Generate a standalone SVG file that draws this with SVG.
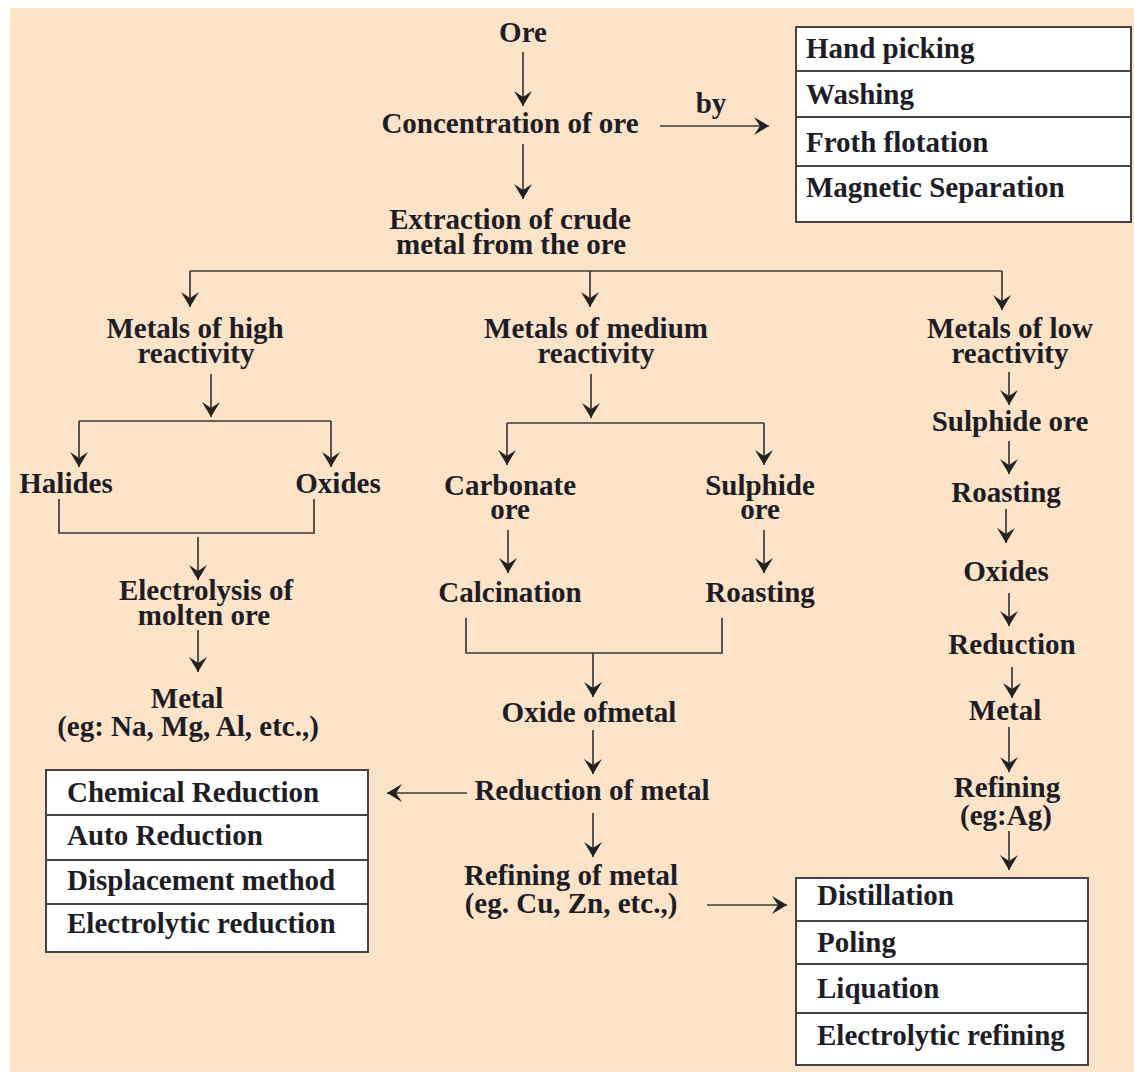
<svg xmlns="http://www.w3.org/2000/svg" width="1134" height="1073" viewBox="0 0 1134 1073">
<defs>
<marker id="ah" markerUnits="userSpaceOnUse" viewBox="0 0 15 20" markerWidth="15" markerHeight="20" refX="15" refY="10" orient="auto">
<path d="M0,1 L15,10 L0,19 L6,10 Z" fill="#222"/>
</marker>
</defs>
<style>
text{font-family:"Liberation Serif","Times New Roman",serif;font-weight:bold;font-size:29px;fill:#1d1d26}
.c{text-anchor:middle}
.ln{fill:none;stroke:#3a3a3a;stroke-width:1.7}
.ar{fill:none;stroke:#3a3a3a;stroke-width:1.7;marker-end:url(#ah)}
.box{fill:#fff;stroke:#444;stroke-width:2}
.sep{stroke:#444;stroke-width:2}
</style>
<rect x="10" y="8" width="1124" height="1064" fill="#fde3c8"/>

<g id="connectors">
<path class="ar" d="M523,52 V106"/>
<path class="ar" d="M523,144 V199"/>
<path class="ar" d="M660,126 H769"/>
<path class="ln" d="M190,271 H1002"/>
<path class="ar" d="M190,271 V307"/>
<path class="ar" d="M590,271 V307"/>
<path class="ar" d="M1002,271 V310"/>
<path class="ar" d="M211,374 V417"/>
<path class="ln" d="M79,421 H331"/>
<path class="ar" d="M79,421 V467"/>
<path class="ar" d="M331,421 V467"/>
<path class="ln" d="M59,499 V533 H314 V499"/>
<path class="ar" d="M198,537 V580"/>
<path class="ar" d="M198,630 V672"/>
<path class="ar" d="M591,374 V418"/>
<path class="ln" d="M507,423 H764"/>
<path class="ar" d="M507,423 V465"/>
<path class="ar" d="M764,423 V465"/>
<path class="ar" d="M508,530 V573"/>
<path class="ar" d="M764,530 V573"/>
<path class="ln" d="M466,618 V653 H722 V618"/>
<path class="ar" d="M593,653 V697"/>
<path class="ar" d="M593,730 V774"/>
<path class="ar" d="M467,793 H387"/>
<path class="ar" d="M593,813 V857"/>
<path class="ar" d="M707,905 H787"/>
<path class="ar" d="M1009,372 V405"/>
<path class="ar" d="M1009,441 V474"/>
<path class="ar" d="M1006,509 V543"/>
<path class="ar" d="M1009,593 V626"/>
<path class="ar" d="M1012,667 V698"/>
<path class="ar" d="M1009,727 V772"/>
<path class="ar" d="M1009,831 V870"/>
</g>

<g id="ore"><text class="c" x="523" y="42">Ore</text></g>
<g id="concentration"><text class="c" x="510" y="133">Concentration of ore</text></g>
<g id="by"><text class="c" x="711" y="113">by</text></g>
<g id="concentration-methods">
<rect class="box" x="796" y="27" width="335" height="195"/>
<line class="sep" x1="796" y1="71" x2="1131" y2="71"/>
<line class="sep" x1="796" y1="117" x2="1131" y2="117"/>
<line class="sep" x1="796" y1="166" x2="1131" y2="166"/>
<text x="806" y="58">Hand picking</text>
<text x="806" y="104">Washing</text>
<text x="806" y="152">Froth flotation</text>
<text x="806" y="197">Magnetic Separation</text>
</g>
<g id="extraction"><text class="c" x="510" y="229">Extraction of crude</text><text class="c" x="511" y="254">metal from the ore</text></g>

<g id="high"><text class="c" x="195" y="338">Metals of high</text><text class="c" x="196" y="363">reactivity</text></g>
<g id="medium"><text class="c" x="596" y="338">Metals of medium</text><text class="c" x="596" y="363">reactivity</text></g>
<g id="low"><text class="c" x="1010" y="338">Metals of low</text><text class="c" x="1010" y="363">reactivity</text></g>

<g id="halides"><text class="c" x="66" y="493">Halides</text></g>
<g id="oxides-high"><text class="c" x="338" y="493">Oxides</text></g>
<g id="electrolysis"><text class="c" x="206" y="600">Electrolysis of</text><text class="c" x="204" y="625">molten ore</text></g>
<g id="metal-high"><text class="c" x="187" y="708">Metal</text><text class="c" x="188" y="736">(eg: Na, Mg, Al, etc.,)</text></g>

<g id="carbonate"><text class="c" x="510" y="495">Carbonate</text><text class="c" x="510" y="519">ore</text></g>
<g id="sulphide-med"><text class="c" x="760" y="495">Sulphide</text><text class="c" x="760" y="519">ore</text></g>
<g id="calcination"><text class="c" x="510" y="602">Calcination</text></g>
<g id="roasting-med"><text class="c" x="760" y="602">Roasting</text></g>
<g id="oxide-metal"><text class="c" x="589" y="722">Oxide ofmetal</text></g>
<g id="reduction-metal"><text class="c" x="592" y="800">Reduction of metal</text></g>
<g id="refining-metal"><text class="c" x="571" y="885">Refining of metal</text><text class="c" x="571" y="913">(eg. Cu, Zn, etc.,)</text></g>

<g id="reduction-methods">
<rect class="box" x="46" y="770" width="322" height="182"/>
<line class="sep" x1="46" y1="815" x2="368" y2="815"/>
<line class="sep" x1="46" y1="860" x2="368" y2="860"/>
<line class="sep" x1="46" y1="904" x2="368" y2="904"/>
<text x="67" y="802">Chemical Reduction</text>
<text x="67" y="845">Auto Reduction</text>
<text x="67" y="890">Displacement method</text>
<text x="67" y="933">Electrolytic reduction</text>
</g>

<g id="sulphide-low"><text class="c" x="1010" y="431">Sulphide ore</text></g>
<g id="roasting-low"><text class="c" x="1006" y="502">Roasting</text></g>
<g id="oxides-low"><text class="c" x="1006" y="581">Oxides</text></g>
<g id="reduction-low"><text class="c" x="1012" y="654">Reduction</text></g>
<g id="metal-low"><text class="c" x="1005" y="720">Metal</text></g>
<g id="refining-low"><text class="c" x="1007" y="797">Refining</text><text class="c" x="1006" y="825">(eg:Ag)</text></g>

<g id="refining-methods">
<rect class="box" x="796" y="878" width="292" height="187"/>
<line class="sep" x1="796" y1="921" x2="1088" y2="921"/>
<line class="sep" x1="796" y1="964" x2="1088" y2="964"/>
<line class="sep" x1="796" y1="1013" x2="1088" y2="1013"/>
<text x="817" y="905">Distillation</text>
<text x="817" y="952">Poling</text>
<text x="817" y="998">Liquation</text>
<text x="817" y="1045">Electrolytic refining</text>
</g>
</svg>
